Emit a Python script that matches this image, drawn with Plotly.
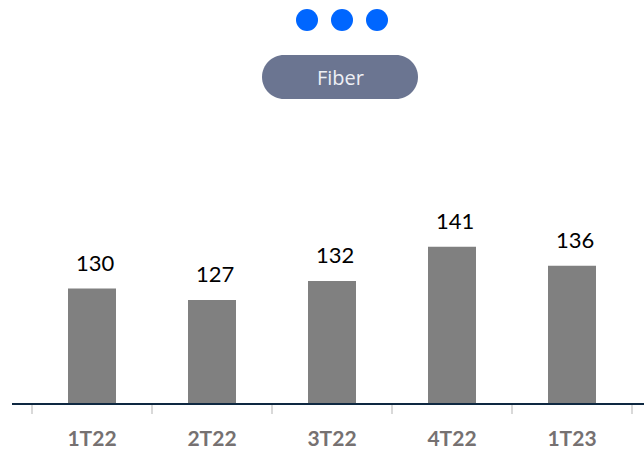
import plotly.graph_objects as go

categories = ["1T22", "2T22", "3T22", "4T22", "1T23"]
values = [130, 127, 132, 141, 136]
title_text = "Fiber"

W, H = 644, 450
L, R, T, B = 12, 0, 100, 47
PW, PH = W - L - R, H - T - B

def px(x):
    return (x - L) / PW

def py(y):
    return (H - B - y) / PH

fig = go.Figure()
fig.add_trace(go.Bar(
    x=categories, y=values, width=0.4,
    marker=dict(color="#808080", line=dict(width=0)),
    hoverinfo="skip",
))

annotations = []
for c, v in zip(categories, values):
    annotations.append(dict(
        x=c, y=v, xref="x", yref="y", text=str(v), showarrow=False,
        yanchor="bottom", xshift=3, yshift=11,
        font=dict(family="Lato", size=22, color="#000000"),
    ))

annotations.append(dict(
    x=px(340), y=py(77), xref="paper", yref="paper", text=title_text,
    showarrow=False, xanchor="center", yanchor="middle",
    font=dict(family="Open Sans", size=20, color="#eef0f5"),
))

shapes = []
# dots
for cx in [307, 342, 377]:
    r = 11
    shapes.append(dict(
        type="circle", xref="paper", yref="paper",
        x0=px(cx - r), x1=px(cx + r), y0=py(20 + r), y1=py(20 - r),
        fillcolor="#0066ff", line=dict(width=0),
    ))

# pill
x0, x1, y0, y1 = 262, 418, 55, 99
rad = 22
k = 0.5523 * rad
def P(x, y):
    return f"{px(x)},{py(y)}"
path = (
    f"M {P(x0 + rad, y0)} L {P(x1 - rad, y0)} "
    f"C {P(x1 - rad + k, y0)} {P(x1, y0 + rad - k)} {P(x1, y0 + rad)} "
    f"C {P(x1, y0 + rad + k)} {P(x1 - rad + k, y1)} {P(x1 - rad, y1)} "
    f"L {P(x0 + rad, y1)} "
    f"C {P(x0 + rad - k, y1)} {P(x0, y0 + rad + k)} {P(x0, y0 + rad)} "
    f"C {P(x0, y0 + rad - k)} {P(x0 + rad - k, y0)} {P(x0 + rad, y0)} Z"
)
shapes.append(dict(type="path", xref="paper", yref="paper", path=path,
                   fillcolor="#6b7591", line=dict(width=0), layer="above"))

ymin = 100
scale = 3.814
fig.update_layout(
    width=W, height=H,
    margin=dict(l=L, r=R, t=T, b=B, pad=0, autoexpand=False),
    paper_bgcolor="white", plot_bgcolor="white",
    showlegend=False,
    xaxis=dict(
        type="category", range=[-0.6667, 4.6], automargin=False,
        showline=True, linecolor="#0e2841", linewidth=2,
        ticks="outside", tickson="boundaries", ticklen=9, tickwidth=2,
        tickcolor="#d9d9d9", showgrid=False, zeroline=False,
        ticklabelstandoff=16,
        tickfont=dict(family="Lato", size=21, color="#767171", weight="bold"),
        fixedrange=True,
    ),
    yaxis=dict(
        range=[ymin, ymin + PH / scale], visible=False, showgrid=False,
        zeroline=False, fixedrange=True, automargin=False,
    ),
    annotations=annotations,
    shapes=shapes,
)

fig.write_html("out.html")
